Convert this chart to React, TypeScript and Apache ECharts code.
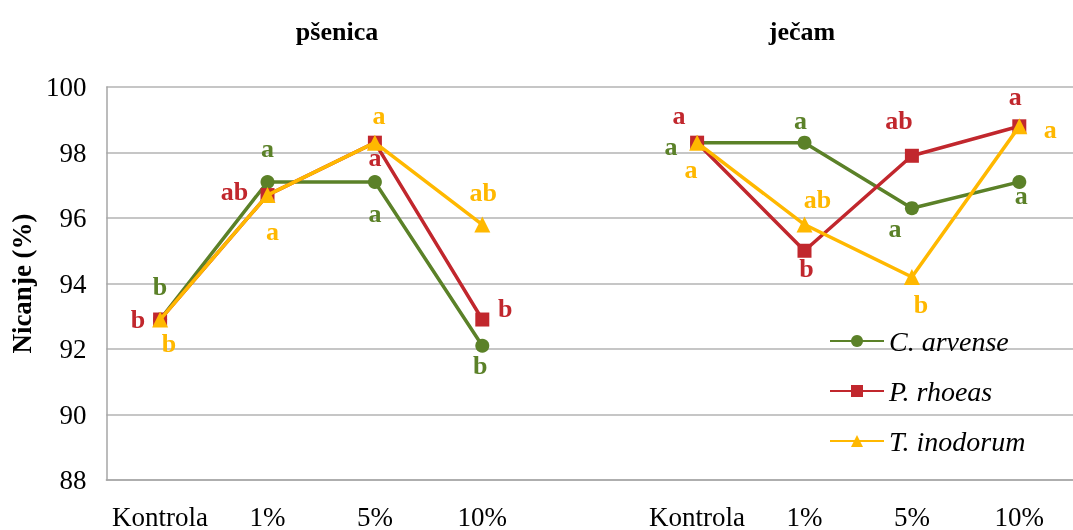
import React, { useEffect, useRef } from "react";
import * as echarts from "echarts";

const categories = ["Kontrola", "1%", "5%", "10%", "", "Kontrola", "1%", "5%", "10%"];
const panelTitles = ["pšenica", "ječam"];
const seriesNames = ["C. arvense", "P. rhoeas", "T. inodorum"];
const cArvense = [92.9, 97.1, 97.1, 92.1, null, 98.3, 98.3, 96.3, 97.1];
const pRhoeas = [92.9, 96.7, 98.3, 92.9, null, 98.3, 95.0, 97.9, 98.8];
const tInodorum = [92.9, 96.7, 98.3, 95.8, null, 98.3, 95.8, 94.2, 98.8];
const cArvenseLetters = ["b", "a", "a", "b", "", "a", "a", "a", "a"];
const pRhoeasLetters = ["b", "ab", "a", "b", "", "a", "b", "ab", "a"];
const tInodorumLetters = ["b", "a", "a", "ab", "", "a", "ab", "b", "a"];
const yTicks = [88, 90, 92, 94, 96, 98, 100];

// label placement (pixel offsets from the marker), styling only
const offsets: number[][][] = [
  [[0, -33], [0, -33], [0, 32], [-2, 20], [0, 0], [-26, 4], [-4, -22], [-17, 20], [2, 14]],
  [[-22, 0], [-33, -4], [0, 15], [23, -11], [0, 0], [-18, -27], [2, 18], [-13, -35], [-4, -30]],
  [[9, 24], [5, 36], [4, -27], [1, -32], [0, 0], [-6, 27], [13, -25], [9, 28], [31, 3]],
];

const colors = ["#5b8128", "#c1272d", "#ffb800"];
const symbols = ["circle", "rect", "triangle"];
const SERIF = "Times New Roman";

export default function App() {
  const ref = useRef<HTMLDivElement>(null);
  useEffect(() => {
    if (!ref.current) return;
    const chart = echarts.init(ref.current, null, { renderer: "svg" });
    const values = [cArvense, pRhoeas, tInodorum];
    const letters = [cArvenseLetters, pRhoeasLetters, tInodorumLetters];
    const series = values.map((vals, si) => ({
      name: seriesNames[si],
      type: "line",
      symbol: symbols[si],
      symbolSize: si === 2 ? 16 : 14,
      lineStyle: { color: colors[si], width: 3.5 },
      itemStyle: { color: colors[si] },
      connectNulls: false,
      z: 2 + si,
      data: vals.map((v, i) => ({
        value: v,
        label: {
          show: v !== null,
          formatter: letters[si][i],
          position: "inside",
          offset: offsets[si][i],
          align: "center",
          verticalAlign: "middle",
          color: colors[si],
          fontFamily: SERIF,
          fontWeight: "bold",
          fontSize: 26,
        },
      })),
    }));
    chart.setOption({
      animation: false,
      title: [
        { text: panelTitles[0], left: 332, top: 13, textAlign: "center",
          textStyle: { fontFamily: SERIF, fontWeight: "bold", fontSize: 26, color: "#000" } },
        { text: panelTitles[1], left: 797, top: 13, textAlign: "center",
          textStyle: { fontFamily: SERIF, fontWeight: "bold", fontSize: 26, color: "#000" } },
      ],
      legend: {
        data: seriesNames,
        orient: "vertical",
        left: 824,
        top: 322,
        itemWidth: 54,
        itemHeight: 15,
        itemGap: 22,
        textStyle: { fontFamily: SERIF, fontStyle: "italic", fontSize: 28, color: "#000" },
      },
      grid: { left: 100, top: 87, width: 985.5, height: 396, containLabel: false },
      xAxis: {
        type: "category",
        data: categories,
        boundaryGap: true,
        axisTick: { show: false },
        axisLine: { show: true, lineStyle: { color: "#a6a6a6", width: 1.5 } },
        axisLabel: { fontFamily: SERIF, fontSize: 27, color: "#000", margin: 23, interval: 0 },
        splitLine: { show: false },
      },
      yAxis: {
        type: "value",
        min: yTicks[0],
        max: yTicks[yTicks.length - 1],
        interval: 2,
        name: "Nicanje (%)",
        nameLocation: "middle",
        nameRotate: 90,
        nameGap: 65,
        nameTextStyle: { fontFamily: SERIF, fontWeight: "bold", fontSize: 27, color: "#000" },
        axisLine: { show: true, lineStyle: { color: "#a6a6a6", width: 1.5 } },
        axisTick: { show: false },
        axisLabel: { fontFamily: SERIF, fontSize: 27, color: "#000", margin: 20 },
        splitLine: { show: true, lineStyle: { color: "#b3b3b3", width: 1.5 } },
      },
      series,
    });
    return () => chart.dispose();
  }, []);
  return (
    <div
      ref={ref}
      style={{ position: "fixed", left: 0, top: 0, width: 1073, height: 530 }}
    />
  );
}
